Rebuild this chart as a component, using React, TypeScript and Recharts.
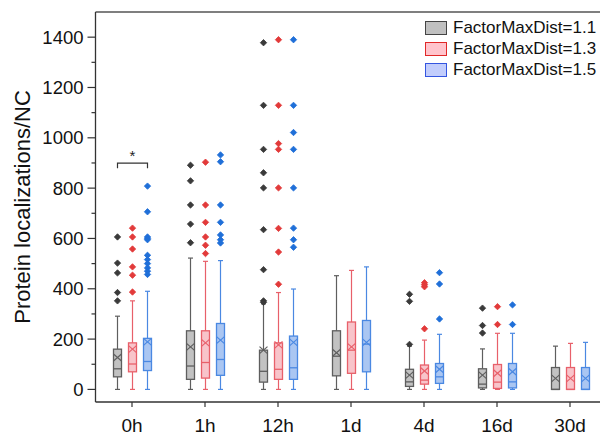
import { Bar, ComposedChart, Label, Legend, ReferenceLine, XAxis, YAxis } from "recharts";

const categories = ["0h", "1h", "12h", "1d", "4d", "16d", "30d"];
const seriesNames = ["FactorMaxDist=1.1", "FactorMaxDist=1.3", "FactorMaxDist=1.5"];
const yTicks = [0, 100, 200, 300, 400, 500, 600, 700, 800, 900, 1000, 1100, 1200, 1300, 1400];

// FactorMaxDist=1.1
const greyLow = [0, 0, 0, 0, 0, 0, 0];
const greyQ1 = [50, 40, 29, 54, 12, 6, 0];
const greyMedian = [82, 93, 72, 132, 30, 21, 0];
const greyQ3 = [160, 233, 156, 233, 80, 82, 87];
const greyHigh = [291, 522, 340, 452, 172, 161, 172];
const greyMean = [127, 169, 156, 146, 57, 57, 44];
const greyOutliers = [
  [606, 502, 463, 385, 352],
  [891, 829, 733, 657, 583],
  [1378, 1129, 954, 861, 801, 635, 476, 352, 346],
  [],
  [378, 350, 179],
  [323, 254, 224],
  [],
];

// FactorMaxDist=1.3
const redLow = [0, 0, 0, 0, 0, 0, 0];
const redQ1 = [70, 45, 40, 64, 21, 4, 0];
const redMedian = [101, 107, 80, 156, 37, 29, 0];
const redQ3 = [185, 233, 185, 268, 97, 99, 87];
const redHigh = [352, 509, 385, 473, 196, 223, 183];
const redMean = [160, 185, 177, 169, 73, 64, 44];
const redOutliers = [
  [641, 606, 558, 487, 454, 387],
  [903, 733, 664, 606, 573, 540],
  [1390, 1129, 977, 954, 801, 640, 546, 418],
  [],
  [424, 416, 408, 241],
  [329, 258],
  [],
];

// FactorMaxDist=1.5
const blueLow = [0, 0, 0, 0, 0, 0, 0];
const blueQ1 = [75, 56, 40, 70, 24, 6, 0];
const blueMedian = [111, 119, 86, 180, 50, 30, 0];
const blueQ3 = [203, 262, 212, 274, 103, 103, 87];
const blueHigh = [390, 512, 399, 487, 219, 223, 187];
const blueMean = [189, 196, 187, 187, 80, 70, 44];
const blueOutliers = [
  [808, 706, 606, 600, 595, 533, 516, 500, 483, 470, 457],
  [932, 905, 733, 664, 614, 595, 582],
  [1390, 1129, 1021, 954, 801, 641, 595, 565],
  [],
  [464, 419, 280],
  [336, 258],
  [],
];

// significance bracket between 1.1 and 1.5 at 0h
const sigCategory = "0h";
const sigValue = 899;
const sigLabel = "*";

const FONT = '"Liberation Sans", Arial, sans-serif';
const BAR_SIZE = 8;
const BAR_GAP = 7;

const palette = [
  { fill: "#c2c2c2", stroke: "#5e5e5e", dot: "#3a3a3a", legendFill: "#c0c0c0", legendStroke: "#444" },
  { fill: "#f8c4ca", stroke: "#e8606a", dot: "#e23a3a", legendFill: "#ffc4cc", legendStroke: "#e02828" },
  { fill: "#aac6f2", stroke: "#4a88e2", dot: "#1f6fd8", legendFill: "#c2cdfc", legendStroke: "#3455e0" },
];

type Stats = {
  low: number[];
  q1: number[];
  median: number[];
  q3: number[];
  high: number[];
  mean: number[];
  outliers: number[][];
};

const stats: Stats[] = [
  { low: greyLow, q1: greyQ1, median: greyMedian, q3: greyQ3, high: greyHigh, mean: greyMean, outliers: greyOutliers },
  { low: redLow, q1: redQ1, median: redMedian, q3: redQ3, high: redHigh, mean: redMean, outliers: redOutliers },
  { low: blueLow, q1: blueQ1, median: blueMedian, q3: blueQ3, high: blueHigh, mean: blueMean, outliers: blueOutliers },
];

const keys = ["grey", "red", "blue"];

const rows = categories.map((name, i) => ({
  name,
  grey: [greyLow[i], greyHigh[i]],
  red: [redLow[i], redHigh[i]],
  blue: [blueLow[i], blueHigh[i]],
}));

function makeBoxShape(s: number) {
  const st = stats[s];
  const c = palette[s];
  return (props: any) => {
    const { x, y, width, height, payload } = props;
    const i = categories.indexOf(payload.name);
    if (i < 0) return <g />;
    const top = Math.min(y, y + height);
    const bottom = Math.max(y, y + height);
    const lo = st.low[i];
    const hi = st.high[i];
    // the bar spans lo..hi, so map other values through the same linear scale
    const py = (v: number) => bottom - ((v - lo) / (hi - lo)) * (bottom - top);
    const cx = x + width / 2;
    const half = width / 2;
    const yq1 = py(st.q1[i]);
    const yq3 = py(st.q3[i]);
    const ym = py(st.median[i]);
    const ymean = py(st.mean[i]);
    const d = 3.2;
    return (
      <g>
        <line x1={cx} x2={cx} y1={top} y2={yq3} stroke={c.stroke} strokeWidth={1.2} />
        <line x1={cx} x2={cx} y1={yq1} y2={bottom} stroke={c.stroke} strokeWidth={1.2} />
        <line x1={cx - 2.5} x2={cx + 2.5} y1={top} y2={top} stroke={c.stroke} strokeWidth={1.2} />
        <line x1={cx - 2.5} x2={cx + 2.5} y1={bottom} y2={bottom} stroke={c.stroke} strokeWidth={1.2} />
        <rect x={x} y={yq3} width={width} height={Math.max(0, yq1 - yq3)} fill={c.fill} stroke={c.stroke} strokeWidth={1.3} />
        <line x1={x} x2={x + width} y1={ym} y2={ym} stroke={c.stroke} strokeWidth={1.3} />
        <line x1={cx - half} x2={cx + half} y1={ymean - 3.5} y2={ymean + 3.5} stroke={c.stroke} strokeWidth={1.2} />
        <line x1={cx - half} x2={cx + half} y1={ymean + 3.5} y2={ymean - 3.5} stroke={c.stroke} strokeWidth={1.2} />
        {st.outliers[i].map((v, k) => {
          const oy = py(v);
          return (
            <path
              key={k}
              d={`M${cx},${oy - d} L${cx + d},${oy} L${cx},${oy + d} L${cx - d},${oy} Z`}
              fill={c.dot}
              stroke={c.dot}
              strokeWidth={0.8}
            />
          );
        })}
        {s === 0 && payload.name === sigCategory && (
          <g>
            <path
              d={`M${cx},${py(sigValue) + 5} L${cx},${py(sigValue)} L${cx + 2 * (width + BAR_GAP)},${py(sigValue)} L${cx + 2 * (width + BAR_GAP)},${py(sigValue) + 5}`}
              fill="none"
              stroke="#333"
              strokeWidth={1.2}
            />
            <text x={cx + width + BAR_GAP} y={py(sigValue) - 2} textAnchor="middle" fontSize={15} fontFamily={FONT} fill="#222">
              {sigLabel}
            </text>
          </g>
        )}
      </g>
    );
  };
}

function YTick(props: any) {
  const { x, y, payload } = props;
  const v = payload.value;
  const major = v % 200 === 0;
  const axisX = x + 12;
  return (
    <g>
      <line x1={axisX - (major ? 8 : 4)} x2={axisX} y1={y} y2={y} stroke="#333" strokeWidth={1.2} />
      {major && (
        <text x={x} y={y} dy={6.5} textAnchor="end" fontSize={18.5} fontFamily={FONT} fill="#111">
          {v}
        </text>
      )}
    </g>
  );
}

function LegendBox() {
  return (
    <div style={{ fontFamily: FONT, fontSize: 17, color: "#111", lineHeight: "21px" }}>
      {seriesNames.map((n, i) => (
        <div key={n} style={{ display: "flex", alignItems: "center", height: 21, whiteSpace: "nowrap" }}>
          <span
            style={{
              display: "inline-block",
              width: 20,
              height: 12,
              background: palette[i].legendFill,
              border: `1.3px solid ${palette[i].legendStroke}`,
              marginRight: 6,
            }}
          />
          {n}
        </div>
      ))}
    </div>
  );
}

export default function App() {
  return (
    <div style={{ position: "absolute", left: 0, top: 0, width: 600, height: 437, overflow: "hidden", background: "#fff" }}>
      <ComposedChart
        width={612}
        height={437}
        data={rows}
        margin={{ top: 12, right: 5.5, bottom: 0, left: 0.5 }}
        barSize={BAR_SIZE}
        barGap={BAR_GAP}
      >
        <XAxis
          dataKey="name"
          height={35}
          tickSize={5}
          tickMargin={12}
          stroke="#333"
          axisLine={{ stroke: "#333", strokeWidth: 1.3 }}
          tickLine={{ stroke: "#333", strokeWidth: 1.2 }}
          tick={{ fontSize: 19, fontFamily: FONT, fill: "#111" }}
          interval={0}
        />
        <YAxis
          type="number"
          domain={[-50, 1500]}
          ticks={yTicks}
          interval={0}
          width={95}
          tickSize={8}
          tickMargin={4}
          tickLine={false}
          axisLine={{ stroke: "#333", strokeWidth: 1.3 }}
          tick={<YTick />}
        >
          <Label
            content={({ viewBox }: any) => {
              const cy = viewBox.y + viewBox.height / 2;
              return (
                <text
                  x={30}
                  y={cy}
                  transform={`rotate(-90 30 ${cy})`}
                  textAnchor="middle"
                  fontSize={22}
                  fontFamily={FONT}
                  fill="#111"
                >
                  Protein localizations/NC
                </text>
              );
            }}
          />
        </YAxis>
        <ReferenceLine y={1500} stroke="#555" strokeWidth={1.3} ifOverflow="visible" />
        <Legend
          layout="vertical"
          align="center"
          verticalAlign="middle"
          content={() => <LegendBox />}
          wrapperStyle={{ top: 17, left: 425, width: 200, height: 66 }}
        />
        {keys.map((k, s) => (
          <Bar key={k} dataKey={k} name={seriesNames[s]} shape={makeBoxShape(s)} isAnimationActive={false} />
        ))}
      </ComposedChart>
    </div>
  );
}
